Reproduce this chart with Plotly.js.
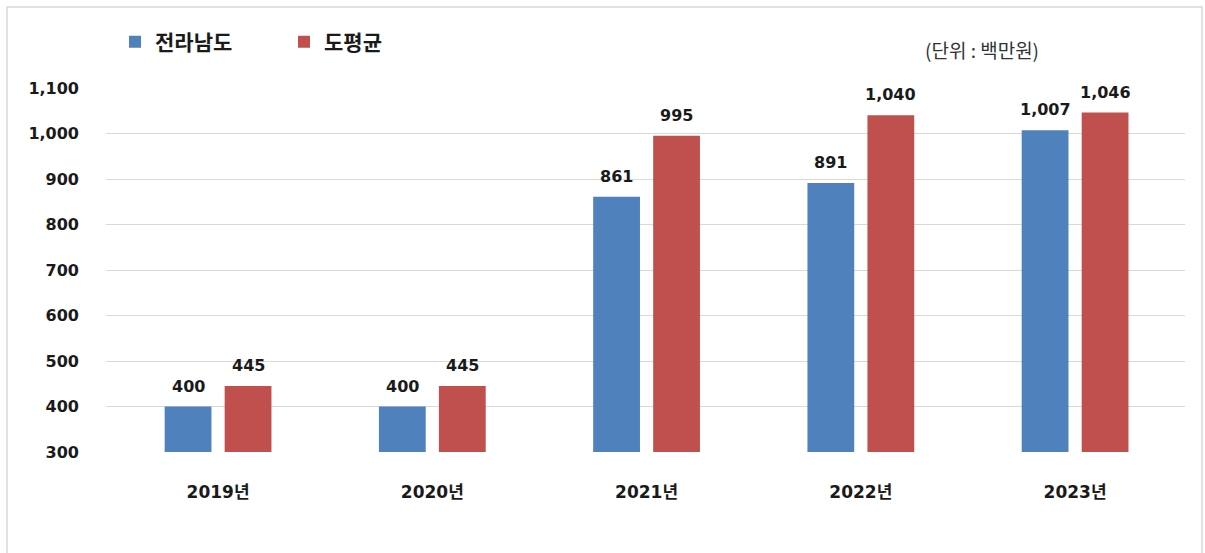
<!DOCTYPE html>
<html>
<head>
<meta charset="utf-8">
<script src="https://cdn.plot.ly/plotly-3.0.1.min.js"></script>
<style>
html,body{margin:0;padding:0;background:#fff;}
#chart{width:1205px;height:553px;}
</style>
</head>
<body>
<div id="chart"></div>
<script>
const categories = ['2019년', '2020년', '2021년', '2022년', '2023년'];
const seriesNames = ['전라남도', '도평균'];
const jeonnam = [400, 400, 861, 891, 1007];
const doAvg = [445, 445, 995, 1040, 1046];
const yTicks = [300, 400, 500, 600, 700, 800, 900, 1000, 1100];
const yTickLabels = ['300', '400', '500', '600', '700', '800', '900', '1,000', '1,100'];
const unitLabel = '(단위 : 백만원)';

const colors = ['#4F81BD', '#C0504D'];
const cjkFont = '"Noto Sans CJK KR", "Noto Sans", sans-serif';
const numFont = '"DejaVu Sans", "Noto Sans CJK KR", sans-serif';
const baseVal = 300;

function fmt(v){ return v.toLocaleString('en-US'); }

const allSeries = [jeonnam, doAvg];
const traces = allSeries.map((vals, i) => ({
  type: 'bar',
  name: seriesNames[i],
  x: categories,
  y: vals.map(v => v - baseVal),
  base: baseVal,
  marker: {color: colors[i]},
  hoverinfo: 'skip'
}));

const L = 106, R = 20, T = 88, B = 101;
const pw = 1205 - L - R, ph = 553 - T - B;
function px(x){ return (x - L) / pw; }
function py(y){ return (553 - B - y) / ph; }

const annotations = [];
allSeries.forEach((vals, i) => {
  vals.forEach((v, j) => {
    annotations.push({
      x: categories[j], y: v, xref: 'x', yref: 'y',
      text: fmt(v), showarrow: false,
      xshift: i === 0 ? -30 : 30, yshift: 9, yanchor: 'bottom',
      font: {family: numFont, size: 16, color: '#1a1a1a', weight: 'bold'}
    });
  });
});
annotations.push({
  x: px(982), y: py(50), xref: 'paper', yref: 'paper',
  text: unitLabel, showarrow: false, xanchor: 'center', yanchor: 'middle',
  font: {family: cjkFont, size: 19, color: '#333'}
});

const layout = {
  width: 1205, height: 553,
  margin: {l: L, r: R, t: T, b: B},
  paper_bgcolor: '#fff', plot_bgcolor: '#fff',
  barmode: 'group', bargap: 0.44, bargroupgap: 0.22,
  showlegend: true,
  legend: {
    orientation: 'h', x: px(115), y: py(42), xanchor: 'left', yanchor: 'middle',
    font: {family: cjkFont, size: 21, color: '#1a1a1a', weight: 'bold'},
    itemwidth: 30, traceorder: 'normal',
    entrywidth: 124
  },
  xaxis: {
    type: 'category', range: [-0.523, 4.513],
    showgrid: false, zeroline: false, showline: false,
    ticks: '', ticklabelstandoff: 28,
    tickfont: {family: numFont, size: 17, color: '#1a1a1a', weight: 'bold'}
  },
  yaxis: {
    range: [300, 1100], tickvals: yTicks, ticktext: yTickLabels,
    showgrid: true, gridcolor: '#d9d9d9', gridwidth: 1, zeroline: false,
    showline: false, ticks: '', ticklabelstandoff: 26,
    tickfont: {family: numFont, size: 16, color: '#1a1a1a', weight: 'bold'}
  },
  annotations: annotations,
  shapes: [{
    type: 'rect', xref: 'paper', yref: 'paper',
    x0: px(7), x1: px(1202), y0: py(7), y1: py(560),
    line: {color: '#d9d9d9', width: 1.5}, fillcolor: 'rgba(0,0,0,0)', layer: 'below'
  }]
};

Plotly.newPlot('chart', traces, layout, {staticPlot: true, displayModeBar: false});
</script>
</body>
</html>
